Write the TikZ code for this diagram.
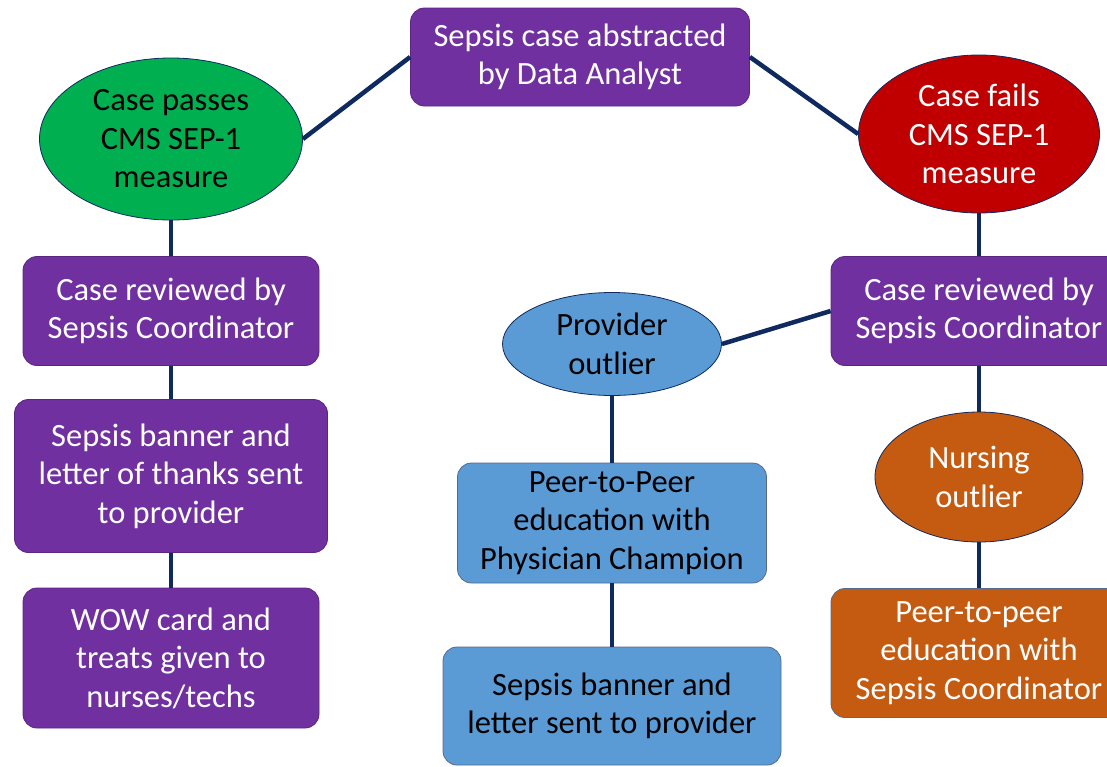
\documentclass[tikz,border=0pt]{standalone}
\usepackage{fontspec}
\setmainfont{Carlito}
\usepackage{tikz}
\usetikzlibrary{positioning, shapes.geometric}
\definecolor{sepsis_purple}{HTML}{7030A0}
\definecolor{sepsis_green}{HTML}{00B050}
\definecolor{sepsis_red}{HTML}{C00000}
\definecolor{sepsis_blue}{HTML}{5B9BD5}
\definecolor{sepsis_orange}{HTML}{C55A11}
\definecolor{sepsis_navy}{HTML}{0F2A5E}
\tikzstyle{block} = [rectangle, rounded corners=14pt, align=center, text=white, draw=sepsis_purple!80!black, fill=sepsis_purple, line width=0.8pt]
\tikzstyle{oval} = [ellipse, align=center, inner sep=0pt, draw=sepsis_navy, line width=0.8pt]
\tikzstyle{link} = [line width=4.5pt, sepsis_navy]

\begin{document}
\begin{tikzpicture}[x=1pt, y=-1pt, font=\fontsize{32.5}{38.5}\selectfont]
        \useasboundingbox (0,0) rectangle (1107,766);
        \node (abstract) [block, minimum width=339pt, minimum height=98pt] at (580,57) {Sepsis case abstracted\\by Data Analyst};
        \node (passes) [oval, fill=sepsis_green, text=black, minimum width=263pt, minimum height=162pt] at (171,139) {Case passes\\CMS SEP-1\\measure};
        \node (fails) [oval, fill=sepsis_red, text=white, minimum width=241pt, minimum height=158pt] at (979,134) {Case fails\\CMS SEP-1\\measure};
        % pass branch
        \node (reviewL) [block, minimum width=296pt, minimum height=109pt] at (171,311) {Case reviewed by\\Sepsis Coordinator};
        \node (thanks) [block, minimum width=313pt, minimum height=153pt] at (171,476) {Sepsis banner and\\letter of thanks sent\\to provider};
        \node (wow) [block, minimum width=296pt, minimum height=140pt] at (171,658) {WOW card and\\treats given to\\nurses/techs};
        % fail branch
        \node (reviewR) [block, minimum width=296pt, minimum height=109pt] at (979,311) {Case reviewed by\\Sepsis Coordinator};
        \node (provider) [oval, fill=sepsis_blue, text=black, minimum width=219pt, minimum height=103pt] at (612,344) {Provider\\outlier};
        \node (peerP) [block, fill=sepsis_blue, draw=sepsis_navy!70, text=black, minimum width=309pt, minimum height=120pt] at (612,523) {Peer-to-Peer\\education with\\Physician Champion};
        \node (letter) [block, fill=sepsis_blue, draw=sepsis_navy!70, text=black, minimum width=338pt, minimum height=118pt] at (612,706) {Sepsis banner and\\letter sent to provider};
        \node (nursing) [oval, fill=sepsis_orange, text=white, minimum width=208pt, minimum height=130pt] at (979,477) {Nursing\\outlier};
        \node (peerN) [block, fill=sepsis_orange, draw=sepsis_navy!70, minimum width=296pt, minimum height=129pt] at (979,653) {Peer-to-peer\\education with\\Sepsis Coordinator};
        \draw [link] (abstract.west) -- (passes.east);
        \draw [link] (abstract.east) -- (fails.west);
        \draw [link] (passes) -- (reviewL);
        \draw [link] (reviewL) -- (thanks);
        \draw [link] (thanks) -- (wow);
        \draw [link] (fails) -- (reviewR);
        \draw [link] (reviewR.west) -- (provider.east);
        \draw [link] (reviewR) -- (nursing);
        \draw [link] (nursing) -- (peerN);
        \draw [link] (provider) -- (peerP);
        \draw [link] (peerP) -- (letter);
    \end{tikzpicture}
\end{document}
